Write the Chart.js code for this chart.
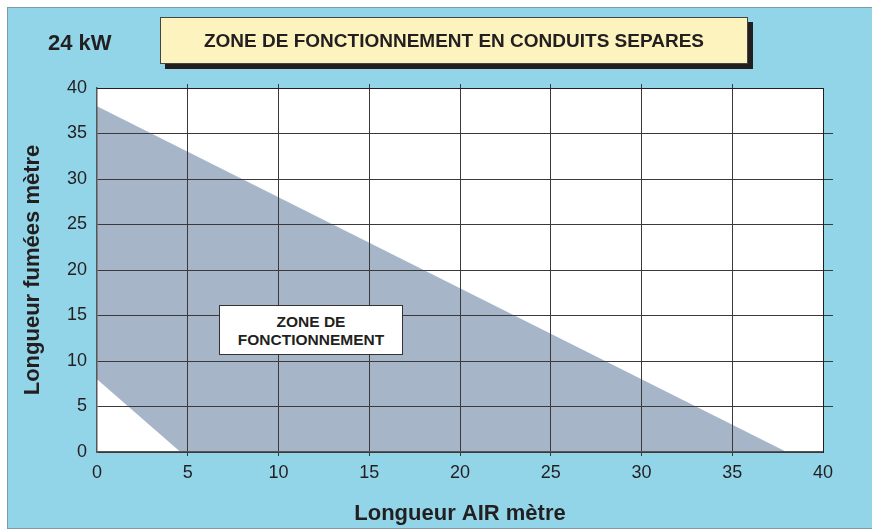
<!DOCTYPE html>
<html>
<head>
<meta charset="utf-8">
<script src="https://cdn.jsdelivr.net/npm/chart.js@4/dist/chart.umd.min.js"></script>
<style>
  html, body { margin: 0; padding: 0; background: #fff; }
  body { width: 872px; height: 531px; position: relative; overflow: hidden; font-family: "Liberation Sans", Arial, sans-serif; }
  .cadre { position: absolute; left: 7px; top: 7px; width: 880px; height: 520px; background: #92d5e8; border: 1.5px solid #7d9aa6; }
  #zone { position: absolute; left: 0; top: 0; }
  .puissance { position: absolute; left: 48px; top: 30px; font-weight: bold; font-size: 22px; color: #231f20; }
  .titre { position: absolute; left: 160px; top: 17px; width: 586px; height: 45px; background: #fdf3bf; border: 1px solid #444;
    box-shadow: 5px 5px 0 #231f20; font-weight: bold; font-size: 19px; color: #231f20; text-align: center; line-height: 45px; }
  .etiquette { position: absolute; left: 219px; top: 305px; width: 184px; height: 50px; background: #fff; border: 1px solid #333;
    font-weight: bold; font-size: 15.5px; color: #231f20; text-align: center; line-height: 18px; padding-top: 7px; box-sizing: border-box; }
</style>
</head>
<body>
<div class="cadre"></div>
<canvas id="zone" width="872" height="531"></canvas>
<div class="puissance">24 kW</div>
<div class="titre">ZONE DE FONCTIONNEMENT EN CONDUITS SEPARES</div>
<div class="etiquette">ZONE DE<br>FONCTIONNEMENT</div>
<script>
// limites de la zone de fonctionnement (longueur air, longueur fumées)
const limiteHaute = [{ x: 0, y: 38 }, { x: 38, y: 0 }];
const limiteBasse = [{ x: 0, y: 8 }, { x: 4.6, y: 0 }, { x: 38, y: 0 }];
const graduations = [0, 5, 10, 15, 20, 25, 30, 35, 40];

const texte = "#231f20";
const grille = "#3a3a3a";
// pas de petit trait aux extrémités 0 et 40
const traitInterieur = c => (c.tick && (c.tick.value === 0 || c.tick.value === 40) ? "rgba(0,0,0,0)" : grille);

// axes sans étiquettes : cadre haut/droit et petits traits qui dépassent
const axeCadre = (position, longueur, taille) => ({
  type: "linear",
  position,
  min: 0,
  max: 40,
  afterBuildTicks: s => { s.ticks = graduations.map(v => ({ value: v })); },
  afterFit: s => { if (position === "top") s.height = taille; else s.width = taille; },
  ticks: { display: false },
  border: { display: true, color: "#231f20", width: 1, z: 1 },
  grid: { drawOnChartArea: false, tickLength: longueur, color: traitInterieur, lineWidth: 1, z: 1 }
});

new Chart(document.getElementById("zone").getContext("2d"), {
  type: "scatter",
  data: {
    datasets: [
      {
        data: limiteHaute,
        showLine: true,
        pointRadius: 0,
        borderWidth: 0,
        borderColor: "rgba(0,0,0,0)",
        backgroundColor: "#a7b5c8",
        fill: "+1"
      },
      {
        data: limiteBasse,
        showLine: true,
        pointRadius: 0,
        borderWidth: 0,
        borderColor: "rgba(0,0,0,0)",
        fill: false
      }
    ]
  },
  options: {
    responsive: false,
    animation: false,
    layout: { padding: 0 },
    plugins: { legend: { display: false }, tooltip: { enabled: false } },
    scales: {
      x: {
        type: "linear",
        position: "bottom",
        min: 0,
        max: 40,
        afterBuildTicks: s => { s.ticks = graduations.map(v => ({ value: v })); },
        afterFit: s => { s.height = 79; },
        ticks: { color: texte, font: { family: "Liberation Sans", size: 18 }, padding: 6 },
        border: { color: "#555", width: 1.5, z: 1 },
        grid: { color: traitInterieur, lineWidth: 1, tickLength: 4, z: 1 },
        title: {
          display: true,
          text: "Longueur AIR mètre",
          color: texte,
          font: { family: "Liberation Sans", size: 22, weight: "bold" },
          padding: { top: 0, bottom: 4 }
        }
      },
      y: {
        type: "linear",
        position: "left",
        min: 0,
        max: 40,
        afterBuildTicks: s => { s.ticks = graduations.map(v => ({ value: v })); },
        afterFit: s => { s.width = 97; },
        ticks: { color: texte, font: { family: "Liberation Sans", size: 18 }, padding: 10 },
        border: { color: "#555", width: 1.5, z: 1 },
        grid: { color: grille, lineWidth: 1, tickLength: 0, z: 1 },
        title: {
          display: true,
          text: "Longueur fumées mètre",
          color: texte,
          font: { family: "Liberation Sans", size: 22, weight: "bold" },
          padding: { top: 20, bottom: 0 }
        }
      },
      haut: axeCadre("top", 4, 88),
      droite: axeCadre("right", 10, 49)
    }
  },
  plugins: [{
    id: "fondBlanc",
    beforeDraw: chart => {
      const { ctx, chartArea: a } = chart;
      ctx.save();
      ctx.fillStyle = "#fff";
      ctx.fillRect(a.left, a.top, a.right - a.left, a.bottom - a.top);
      ctx.restore();
    }
  }]
});
</script>
</body>
</html>
